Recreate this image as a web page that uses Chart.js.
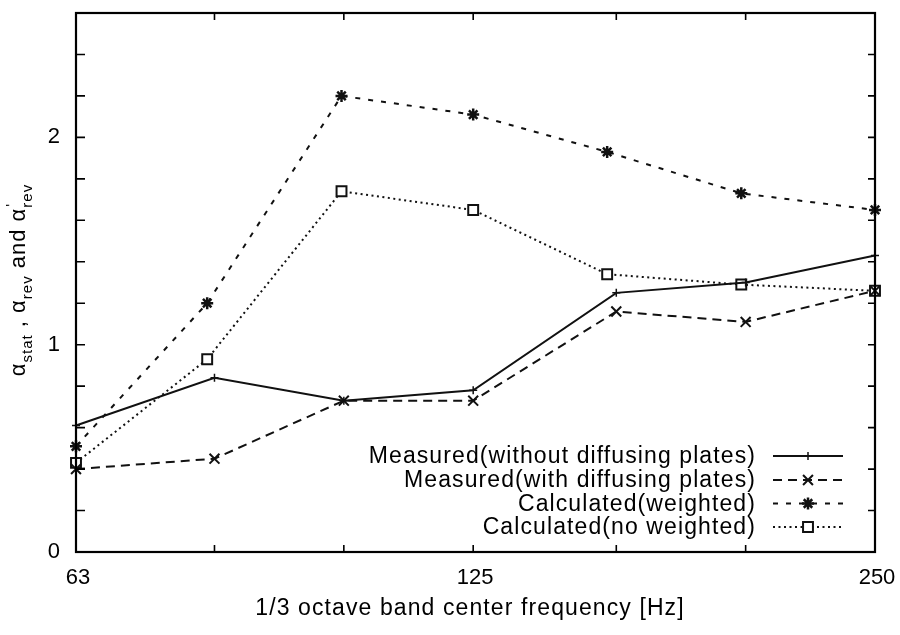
<!DOCTYPE html>
<html>
<head>
<meta charset="utf-8">
<script src="https://cdn.jsdelivr.net/npm/chart.js@4.4.1/dist/chart.umd.min.js"></script>
<style>
  html, body { margin: 0; padding: 0; background: #fff; }
  #wrap { width: 900px; height: 635px; position: relative; }
</style>
</head>
<body>
<div id="wrap"><canvas id="chart"></canvas></div>
<script>
// 1/3 octave band centre frequencies [Hz]
const freqs = [63, 80, 100, 125, 160, 200, 250];
// the calculated curves sit on the exact band centres
const calcFreqs = [63, 79, 99.6, 125, 157.5, 198.5, 250];
const freqLabels = [63, 125, 250];
const yTicks = [0, 0.2, 0.4, 0.6, 0.8, 1, 1.2, 1.4, 1.6, 1.8, 2, 2.2, 2.4];
const yLabels = [0, 1, 2];

const measuredWithout = [0.61, 0.84, 0.73, 0.78, 1.25, 1.30, 1.43];
const measuredWith    = [0.40, 0.45, 0.73, 0.73, 1.16, 1.11, 1.26];
const calcWeighted    = [0.51, 1.20, 2.20, 2.11, 1.93, 1.73, 1.65];
const calcNoWeighted  = [0.43, 0.93, 1.74, 1.65, 1.34, 1.29, 1.26];

const seriesNames = [
  'Measured(without diffusing plates)',
  'Measured(with diffusing plates)',
  'Calculated(weighted)',
  'Calculated(no weighted)'
];

const FONT = '"Liberation Sans", Arial, sans-serif';

function pts(xs, ys) {
  return xs.map((f, i) => ({ x: f, y: ys[i] }));
}

function makeSet(label, xs, ys, dash, style, radius, pw) {
  return {
    label: label,
    data: pts(xs, ys),
    borderColor: '#111',
    borderWidth: 2,
    borderDash: dash,
    pointStyle: style,
    pointRadius: radius,
    pointBorderWidth: pw,
    pointBorderColor: '#111',
    pointBackgroundColor: '#fff',
    tension: 0,
    fill: false,
    clip: false
  };
}

const datasets = [
  makeSet(seriesNames[0], freqs, measuredWithout, [], 'cross', 4, 1.5),
  makeSet(seriesNames[1], freqs, measuredWith, [9, 6], 'crossRot', 7, 2),
  makeSet(seriesNames[2], calcFreqs, calcWeighted, [5, 8], 'star', 6, 2.5),
  makeSet(seriesNames[3], calcFreqs, calcNoWeighted, [2, 3.5], 'rect', 7, 2)
];

// y axis title with subscripts, drawn rotated
function drawYTitle(ctx, cx, cy) {
  const big = '22px ' + FONT, small = '15px ' + FONT;
  const parts = [
    { t: 'α', f: big, dy: 0 },
    { t: 'stat', f: small, dy: 7 },
    { t: ' , ', f: big, dy: 0 },
    { t: 'α', f: big, dy: 0 },
    { t: 'rev', f: small, dy: 7 },
    { t: ' and ', f: big, dy: 0 },
    { t: 'α', f: big, dy: 0 },
    { t: 'rev', f: small, dy: 7, prime: true }
  ];
  ctx.save();
  ctx.letterSpacing = '1px';
  let total = 0;
  parts.forEach(p => { ctx.font = p.f; p.w = ctx.measureText(p.t).width; total += p.w; });
  ctx.translate(cx, cy);
  ctx.rotate(-Math.PI / 2);
  ctx.fillStyle = '#000';
  ctx.textBaseline = 'alphabetic';
  ctx.textAlign = 'left';
  let px = -total / 2;
  parts.forEach(p => {
    ctx.font = p.f;
    ctx.fillText(p.t, px, p.dy);
    if (p.prime) ctx.fillText('\'', px + 1, -9);
    px += p.w;
  });
  ctx.restore();
}

function drawMarker(ctx, style, r, pw, x, y) {
  if (Chart.helpers && Chart.helpers.drawPoint) {
    ctx.lineWidth = pw;
    ctx.strokeStyle = '#111';
    ctx.fillStyle = '#fff';
    Chart.helpers.drawPoint(ctx, { pointStyle: style, radius: r, borderWidth: pw, rotation: 0 }, x, y);
  }
}

const gnuplotFrame = {
  id: 'gnuplotFrame',
  afterDatasetsDraw(chart) {
    const { ctx, chartArea: a, scales: { x, y } } = chart;
    ctx.save();
    ctx.strokeStyle = '#000';
    ctx.lineWidth = 2.2;
    ctx.strokeRect(a.left, a.top, a.right - a.left, a.bottom - a.top);

    // inward tick marks on all four sides
    ctx.lineWidth = 1.6;
    ctx.beginPath();
    freqs.forEach(f => {
      const px = x.getPixelForValue(f);
      ctx.moveTo(px, a.bottom); ctx.lineTo(px, a.bottom - 7);
      ctx.moveTo(px, a.top); ctx.lineTo(px, a.top + 7);
    });
    yTicks.forEach(v => {
      const py = y.getPixelForValue(v);
      ctx.moveTo(a.left, py); ctx.lineTo(a.left + 9, py);
      ctx.moveTo(a.right, py); ctx.lineTo(a.right - 7, py);
    });
    ctx.stroke();

    // tick labels
    ctx.fillStyle = '#000';
    ctx.font = '22px ' + FONT;
    ctx.textAlign = 'center';
    ctx.textBaseline = 'middle';
    freqLabels.forEach(f => ctx.fillText(String(f), x.getPixelForValue(f) + 2, 578));
    ctx.textAlign = 'right';
    yLabels.forEach(v => ctx.fillText(String(v), 60, y.getPixelForValue(v)));

    // axis titles
    ctx.textAlign = 'center';
    ctx.font = '23px ' + FONT;
    ctx.letterSpacing = '1.1px';
    ctx.fillText('1/3 octave band center frequency [Hz]', 470, 609);
    ctx.letterSpacing = '0px';
    drawYTitle(ctx, 25, 280);

    // key, gnuplot style: text right-aligned, then a sample line with its marker
    const rows = [456, 480, 503.5, 527];
    chart.data.datasets.forEach((ds, i) => {
      const ry = rows[i];
      ctx.font = '23px ' + FONT;
      ctx.letterSpacing = '1.1px';
      ctx.fillStyle = '#000';
      ctx.textAlign = 'right';
      ctx.textBaseline = 'middle';
      ctx.fillText(ds.label, 756, ry + 1);
      ctx.letterSpacing = '0px';
      ctx.save();
      ctx.strokeStyle = '#111';
      ctx.lineWidth = 2;
      ctx.setLineDash(ds.borderDash);
      ctx.beginPath();
      ctx.moveTo(773, ry); ctx.lineTo(843, ry);
      ctx.stroke();
      ctx.setLineDash([]);
      drawMarker(ctx, ds.pointStyle, ds.pointRadius, ds.pointBorderWidth, 808, ry);
      ctx.restore();
    });
    ctx.restore();
  }
};

new Chart(document.getElementById('chart'), {
  type: 'line',
  data: { datasets: datasets },
  options: {
    responsive: true,
    maintainAspectRatio: false,
    animation: false,
    layout: { padding: { left: 76, right: 25, top: 13, bottom: 83 } },
    plugins: { legend: { display: false }, tooltip: { enabled: false } },
    scales: {
      x: { type: 'logarithmic', min: 63, max: 250, display: false },
      y: { type: 'linear', min: 0, max: 2.6, display: false }
    }
  },
  plugins: [gnuplotFrame]
});
</script>
</body>
</html>
